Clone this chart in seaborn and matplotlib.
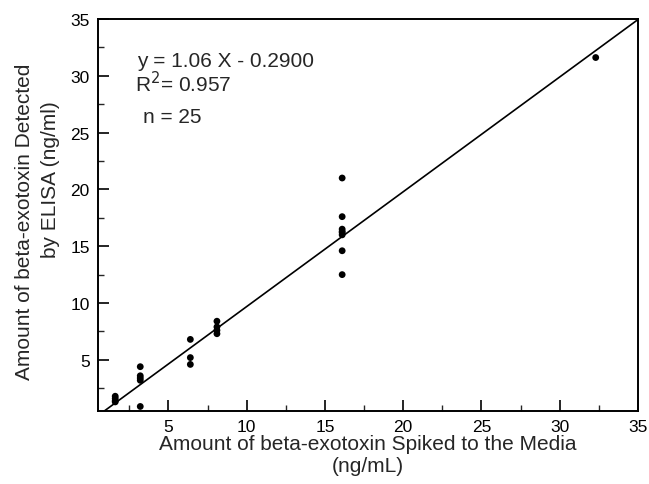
import numpy as np
import pandas as pd
import matplotlib
matplotlib.use("Agg")
import matplotlib.pyplot as plt
from matplotlib.ticker import MultipleLocator
import seaborn as sns

# spiked amount (ng/mL) and ELISA-detected amount (ng/ml)
spiked = [1.6, 1.6, 1.6, 1.6,
          3.2, 3.2, 3.2, 3.2, 3.2,
          6.4, 6.4, 6.4,
          8.1, 8.1, 8.1, 8.1,
          16.1, 16.1, 16.1, 16.1, 16.1, 16.1, 16.1, 16.1,
          32.3]
detected = [1.8, 1.6, 1.4, 1.3,
            4.4, 3.6, 3.4, 3.2, 0.9,
            6.8, 5.2, 4.6,
            8.4, 7.9, 7.6, 7.3,
            21.0, 17.6, 16.5, 16.3, 16.2, 16.0, 14.6, 12.5,
            31.6]

# drawn regression line (as it appears on the plot)
line_slope = 1.01
line_intercept = -0.41
line_x = [0.9, 35.0]

eq_text = "y = 1.06 X - 0.2900"
r2_text = "R$^2$= 0.957"
n_text = "n = 25"

sns.set_style("ticks")
plt.rcParams["font.family"] = ["Liberation Sans", "DejaVu Sans"]

df = pd.DataFrame({"spiked": spiked, "detected": detected})
fit = pd.DataFrame({"x": line_x})
fit["y"] = line_slope * fit["x"] + line_intercept

fig = plt.figure(figsize=(6.49, 4.85), dpi=100)
ax = fig.add_axes([0.151, 0.1505, 0.832, 0.8085])

sns.lineplot(data=fit, x="x", y="y", color="black", linewidth=1.2, ax=ax)
sns.scatterplot(data=df, x="spiked", y="detected", color="black", s=24,
                edgecolor="none", ax=ax, zorder=3)

ax.set_xlim(0.5, 35)
ax.set_ylim(0.5, 35)
ax.xaxis.set_major_locator(MultipleLocator(5))
ax.yaxis.set_major_locator(MultipleLocator(5))
ax.xaxis.set_minor_locator(MultipleLocator(2.5))
ax.yaxis.set_minor_locator(MultipleLocator(2.5))
ax.tick_params(which="major", direction="in", length=8, width=1.2,
               labelsize=12.5, colors="black", pad=6)
ax.tick_params(which="minor", direction="in", length=4, width=1.0)
for s in ax.spines.values():
    s.set_linewidth(1.4)
    s.set_color("black")

ax.set_xlabel("Amount of beta-exotoxin Spiked to the Media\n(ng/mL)",
              fontsize=15, labelpad=0, linespacing=1.2)
ax.set_ylabel("")
# y label: two lines, second one shifted upward as in the original
fig.text(25 / 649, 1 - 222 / 485, "Amount of beta-exotoxin Detected",
         rotation=90, ha="center", va="center", fontsize=15)
fig.text(51 / 649, 1 - 180 / 485, "by ELISA (ng/ml)",
         rotation=90, ha="center", va="center", fontsize=15)

ax.text(0.072, 0.895, eq_text, transform=ax.transAxes, fontsize=15, va="center")
ax.text(0.069, 0.838, r2_text, transform=ax.transAxes, fontsize=15, va="center")
ax.text(0.083, 0.752, n_text, transform=ax.transAxes, fontsize=15, va="center")

fig.savefig("out.png", dpi=100)
